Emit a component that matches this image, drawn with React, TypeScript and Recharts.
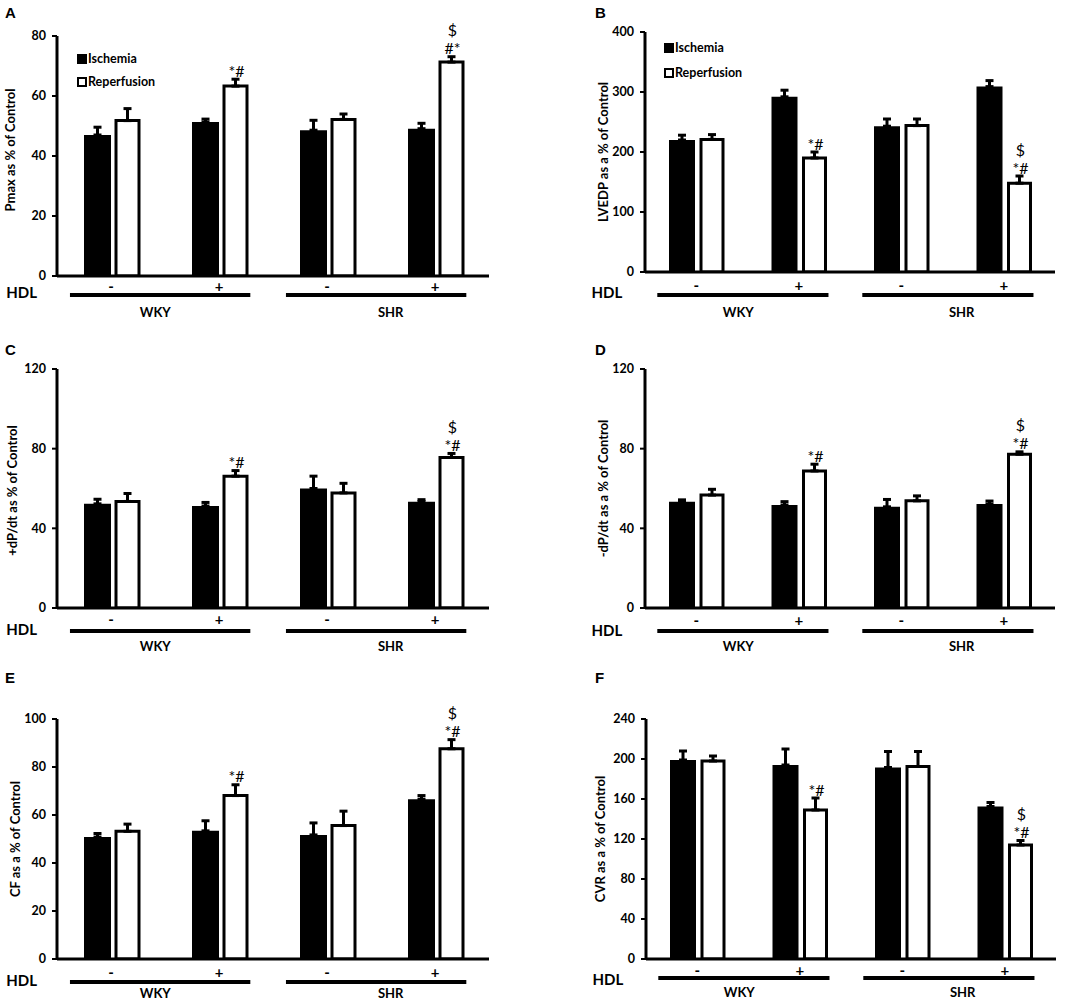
import React from "react";
import { BarChart, Bar, XAxis, YAxis, ErrorBar, LabelList, Legend } from "recharts";

const FONT = "Lato, 'Open Sans', sans-serif";

const groups = ["WKY -", "WKY +", "SHR -", "SHR +"];
const hdlSigns = ["-", "+", "-", "+"];
const strains = ["WKY", "SHR"];

// A — Pmax
const pmaxTicks = [0, 20, 40, 60, 80];
const pmaxIsch = [47, 51.3, 48.6, 49.1];
const pmaxIschErr = [2.6, 1, 3.3, 1.8];
const pmaxRep = [51.8, 63.3, 52.2, 71.3];
const pmaxRepErr = [4, 2.3, 1.8, 1.8];
const pmaxSig = ["", "*#", "", "#*"];

// B — LVEDP
const lvedpTicks = [0, 100, 200, 300, 400];
const lvedpIsch = [220, 292, 243, 309];
const lvedpIschErr = [8, 11, 12, 10];
const lvedpRep = [221, 190, 244, 148];
const lvedpRepErr = [8, 10, 11, 12];
const lvedpSig = ["", "*#", "", "*#"];

// C — +dP/dt
const dpPosTicks = [0, 40, 80, 120];
const dpPosIsch = [52.3, 51.2, 60, 53.4];
const dpPosIschErr = [2.3, 1.8, 6.2, 1];
const dpPosRep = [53.5, 66.2, 57.8, 75.6];
const dpPosRepErr = [4, 2.8, 4.8, 2];
const dpPosSig = ["", "*#", "", "*#"];

// D — -dP/dt
const dpNegTicks = [0, 40, 80, 120];
const dpNegIsch = [53.3, 51.7, 50.8, 52.2];
const dpNegIschErr = [1, 1.7, 3.7, 1.5];
const dpNegRep = [56.7, 68.8, 53.8, 77.2];
const dpNegRepErr = [2.9, 3.4, 2.5, 1.2];
const dpNegSig = ["", "*#", "", "*#"];

// E — CF
const cfTicks = [0, 20, 40, 60, 80, 100];
const cfIsch = [50.8, 53.4, 51.7, 66.6];
const cfIschErr = [1.5, 4.2, 5, 1.5];
const cfRep = [53.2, 68.1, 55.6, 87.6];
const cfRepErr = [3, 4.5, 6, 3.8];
const cfSig = ["", "*#", "", "*#"];

// F — CVR
const cvrTicks = [0, 40, 80, 120, 160, 200, 240];
const cvrIsch = [199, 194, 191.5, 152.5];
const cvrIschErr = [9, 16, 16, 4];
const cvrRep = [198, 149, 192.5, 114];
const cvrRepErr = [5, 12, 15, 4.5];
const cvrSig = ["", "*#", "", "*#"];

// "$" marks are shared by every panel (last group only)
const dollarMarks = ["", "", "", "$"];

const YW = 50;
const XH = 40;

type Sub = { sign: number; hdl: number; line: number; group: number };

type PanelProps = {
  letter: string;
  left: number;
  top: number;
  width: number;
  height: number;
  axisX: number;
  plotRight: number;
  topY: number;
  zeroY: number;
  yLabel: string;
  labelDx: number;
  labelDy: number;
  ticks: number[];
  isch: number[];
  ischErr: number[];
  rep: number[];
  repErr: number[];
  sig: string[];
  ischSize: number;
  repSize: number;
  gap: number;
  sub: Sub;
  legend?: { x: number; y: number; pitch: number };
};

function LegendBox({ payload, pitch }: any) {
  return (
    <div style={{ fontFamily: FONT, fontWeight: 700, fontSize: 12.5, color: "#000" }}>
      {(payload || []).map((entry: any, i: number) => (
        <div key={i} style={{ display: "flex", alignItems: "center", height: pitch, whiteSpace: "nowrap" }}>
          <span
            style={{
              display: "inline-block",
              width: 10,
              height: 10,
              boxSizing: "border-box",
              background: i === 0 ? "#000" : "#fff",
              border: "2.5px solid #000",
              marginRight: 1,
            }}
          />
          {entry.value}
        </div>
      ))}
    </div>
  );
}

function Panel(p: PanelProps) {
  const step = (p.plotRight - p.axisX) / 4;
  const data = groups.map((g, i) => ({
    group: g,
    isch: p.isch[i],
    ischErr: [0, p.ischErr[i]],
    rep: p.rep[i],
    repErr: [0, p.repErr[i]],
  }));
  const margin = {
    top: p.topY - p.top,
    left: p.axisX - p.left - YW,
    right: p.left + p.width - p.plotRight,
    bottom: p.top + p.height - p.zeroY - XH,
  };

  const renderTick = (props: any) => {
    const { x, y, index } = props;
    const g = Math.floor(index / 2);
    const first = index % 2 === 0;
    return (
      <g fontFamily={FONT} fontWeight={700} fill="#000">
        <text x={x} y={y + p.sub.sign} textAnchor="middle" dominantBaseline="central" fontSize={15}>
          {hdlSigns[index]}
        </text>
        {first && (
          <line
            x1={x - 0.38 * step}
            x2={x + 1.29 * step}
            y1={y + p.sub.line}
            y2={y + p.sub.line}
            stroke="#000"
            strokeWidth={4}
          />
        )}
        {first && (
          <text
            x={x + (g === 0 ? 0.41 : 0.59) * step}
            y={y + p.sub.group}
            textAnchor="middle"
            dominantBaseline="central"
            fontSize={13}
          >
            {strains[g]}
          </text>
        )}
        {index === 0 && (
          <text x={x - 74} y={y + p.sub.hdl} textAnchor="end" dominantBaseline="central" fontSize={15}>
            HDL
          </text>
        )}
      </g>
    );
  };

  const renderSig = (props: any) => {
    const vb = props.viewBox ?? props;
    const { x, y, width, height } = vb;
    const index = props.index;
    const value = Number(props.value);
    if (!value || !height) return null;
    const perUnit = height / value;
    const errTop = y - p.repErr[index] * perUnit;
    const cx = x + width / 2 + 1;
    return (
      <g fontFamily={FONT} fill="#000" fontSize={16}>
        {p.sig[index] && (
          <text x={cx} y={errTop - 9} textAnchor="middle" dominantBaseline="central">
            {p.sig[index]}
          </text>
        )}
        {dollarMarks[index] && (
          <text x={cx} y={errTop - 27} textAnchor="middle" dominantBaseline="central">
            {dollarMarks[index]}
          </text>
        )}
      </g>
    );
  };

  const renderYLabel = (props: any) => {
    const vb = props.viewBox ?? props;
    const cx = vb.x + vb.width + p.labelDx;
    const cy = vb.y + vb.height / 2 + p.labelDy;
    return (
      <text
        x={cx}
        y={cy}
        transform={`rotate(-90 ${cx} ${cy})`}
        textAnchor="middle"
        dominantBaseline="central"
        fontFamily={FONT}
        fontWeight={700}
        fontSize={13}
        fill="#000"
      >
        {p.yLabel}
      </text>
    );
  };

  return (
    <div style={{ position: "absolute", left: p.left, top: p.top }}>
      <BarChart width={p.width} height={p.height} data={data} margin={margin} barGap={p.gap}>
        <XAxis
          dataKey="group"
          interval={0}
          tickSize={0}
          tickMargin={0}
          tickLine={false}
          height={XH}
          axisLine={{ stroke: "#000", strokeWidth: 3 }}
          tick={renderTick}
        />
        <YAxis
          width={YW}
          domain={[0, p.ticks[p.ticks.length - 1]]}
          ticks={p.ticks}
          allowDataOverflow
          tickSize={5}
          tickMargin={6}
          axisLine={{ stroke: "#000", strokeWidth: 3 }}
          tickLine={{ stroke: "#000", strokeWidth: 2 }}
          tick={{ fill: "#000", fontSize: 12.5, fontWeight: 700, fontFamily: FONT }}
          label={renderYLabel}
        />
        {p.legend && (
          <Legend
            layout="vertical"
            align="center"
            verticalAlign="middle"
            wrapperStyle={{ left: p.legend.x - p.left, top: p.legend.y - p.top, width: "auto", height: "auto" }}
            content={(lp: any) => <LegendBox payload={lp.payload} pitch={p.legend!.pitch} />}
          />
        )}
        <Bar dataKey="isch" name="Ischemia" fill="#000" barSize={p.ischSize} isAnimationActive={false}>
          <ErrorBar dataKey="ischErr" direction="y" stroke="#000" strokeWidth={3} width={4} isAnimationActive={false} />
        </Bar>
        <Bar
          dataKey="rep"
          name="Reperfusion"
          fill="#fff"
          stroke="#000"
          strokeWidth={3}
          barSize={p.repSize}
          isAnimationActive={false}
        >
          <ErrorBar dataKey="repErr" direction="y" stroke="#000" strokeWidth={3} width={4} isAnimationActive={false} />
          <LabelList dataKey="rep" content={renderSig} />
        </Bar>
      </BarChart>
      <div
        style={{
          position: "absolute",
          left: p.letter === "A" || p.letter === "C" || p.letter === "E" ? 5 : 55,
          top: p.letter === "A" || p.letter === "B" ? 5 : p.letter === "C" || p.letter === "D" ? 17 : 15,
          fontFamily: "'Liberation Sans', Arial, sans-serif",
          fontWeight: 700,
          fontSize: 15,
          lineHeight: "15px",
          color: "#000",
        }}
      >
        {p.letter}
      </div>
    </div>
  );
}

export default function App() {
  return (
    <div
      style={{
        position: "absolute",
        left: 0,
        top: 0,
        width: 1084,
        height: 1001,
        background: "#fff",
        overflow: "hidden",
      }}
    >
      <Panel
        letter="A"
        left={0} top={0} width={520} height={325}
        axisX={57} plotRight={489} topY={36} zeroY={276}
        yLabel="Pmax as % of Control" labelDx={-47} labelDy={-6}
        ticks={pmaxTicks} isch={pmaxIsch} ischErr={pmaxIschErr} rep={pmaxRep} repErr={pmaxRepErr} sig={pmaxSig}
        ischSize={27} repSize={23} gap={5}
        sub={{ sign: 10, hdl: 16, line: 19, group: 36 }}
        legend={{ x: 77, y: 47, pitch: 23 }}
      />
      <Panel
        letter="B"
        left={540} top={0} width={544} height={325}
        axisX={645} plotRight={1055} topY={32} zeroY={272}
        yLabel="LVEDP as a % of Control" labelDx={-42} labelDy={0}
        ticks={lvedpTicks} isch={lvedpIsch} ischErr={lvedpIschErr} rep={lvedpRep} repErr={lvedpRepErr} sig={lvedpSig}
        ischSize={26} repSize={22} gap={6}
        sub={{ sign: 13, hdl: 20, line: 23, group: 40 }}
        legend={{ x: 664, y: 35, pitch: 25 }}
      />
      <Panel
        letter="C"
        left={0} top={325} width={520} height={330}
        axisX={57} plotRight={489} topY={369} zeroY={608}
        yLabel="+dP/dt as % of Control" labelDx={-45} labelDy={2}
        ticks={dpPosTicks} isch={dpPosIsch} ischErr={dpPosIschErr} rep={dpPosRep} repErr={dpPosRepErr} sig={dpPosSig}
        ischSize={27} repSize={23} gap={5}
        sub={{ sign: 11, hdl: 21, line: 23, group: 38 }}
      />
      <Panel
        letter="D"
        left={540} top={325} width={544} height={330}
        axisX={645} plotRight={1055} topY={369} zeroY={608}
        yLabel="-dP/dt as a % of Control" labelDx={-42} labelDy={0}
        ticks={dpNegTicks} isch={dpNegIsch} ischErr={dpNegIschErr} rep={dpNegRep} repErr={dpNegRepErr} sig={dpNegSig}
        ischSize={26} repSize={22} gap={6}
        sub={{ sign: 12, hdl: 22, line: 23, group: 38 }}
      />
      <Panel
        letter="E"
        left={0} top={655} width={520} height={346}
        axisX={57} plotRight={489} topY={719} zeroY={959}
        yLabel="CF as a % of Control" labelDx={-42} labelDy={0}
        ticks={cfTicks} isch={cfIsch} ischErr={cfIschErr} rep={cfRep} repErr={cfRepErr} sig={cfSig}
        ischSize={27} repSize={23} gap={5}
        sub={{ sign: 13, hdl: 21, line: 23, group: 34 }}
      />
      <Panel
        letter="F"
        left={540} top={655} width={544} height={346}
        axisX={646} plotRight={1056} topY={719} zeroY={959}
        yLabel="CVR as a % of Control" labelDx={-46} labelDy={0}
        ticks={cvrTicks} isch={cvrIsch} ischErr={cvrIschErr} rep={cvrRep} repErr={cvrRepErr} sig={cvrSig}
        ischSize={26} repSize={22} gap={6}
        sub={{ sign: 11, hdl: 20, line: 19, group: 33 }}
      />
    </div>
  );
}
